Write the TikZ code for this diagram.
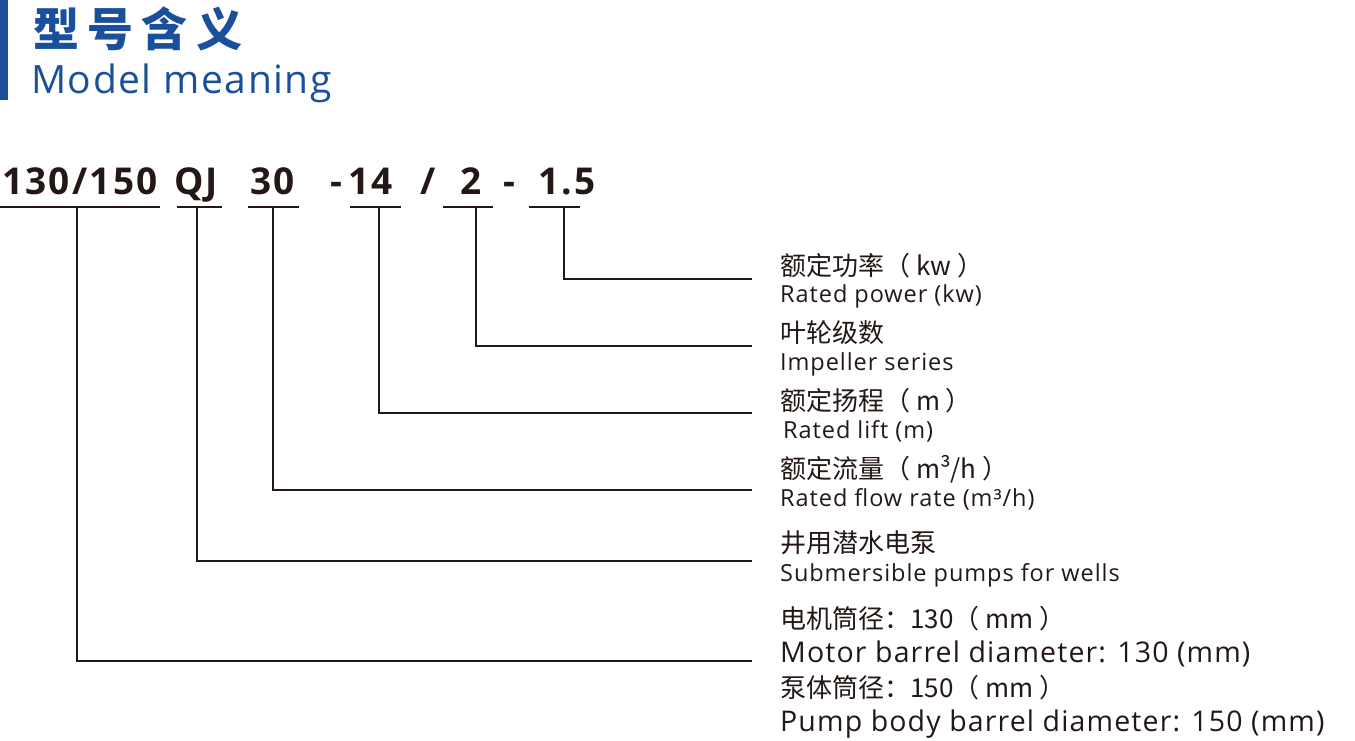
\documentclass[tikz,border=0pt]{standalone}
\usepackage{fontspec}
\usepackage{tikz}
\setmainfont{Open Sans}
\newfontfamily\cjk{Noto Sans CJK SC}
\newfontfamily\cjkwide[LetterSpace=18]{Noto Sans CJK SC}
\newfontfamily\codefont[LetterSpace=6]{Open Sans}
\newfontfamily\enwide[LetterSpace=4]{Open Sans}
\definecolor{titleblue}{HTML}{1A4F9C}
\definecolor{ink}{HTML}{231815}
\tikzset{
  codetxt/.style={anchor=base west, inner sep=0pt, text=ink, font=\codefont\fontsize{37}{37}\selectfont\bfseries},
  cnlbl/.style={anchor=base west, inner sep=0pt, text=ink, font=\cjk\fontsize{26}{26}\selectfont},
  enlbl/.style={anchor=base west, inner sep=0pt, text=ink, font=\enwide\fontsize{23.5}{23.5}\selectfont},
  enbig/.style={anchor=base west, inner sep=0pt, text=ink, font=\enwide\fontsize{28.5}{28.5}\selectfont},
  leader/.style={draw=ink, line width=1.8pt},
}
\begin{document}
\begin{tikzpicture}[x=1pt, y=-1pt]
\useasboundingbox (0,0) rectangle (1355,740);
% title
\fill[titleblue] (0,0) rectangle (8,100);
\node[anchor=base west, inner sep=0pt, text=titleblue, font=\cjkwide\fontsize{46}{46}\selectfont\bfseries] (title) at (33,46) {型号含义};
\node[anchor=base west, inner sep=0pt, text=titleblue, font=\enwide\fontsize{39}{39}\selectfont] (subtitle) at (31,93) {Model meaning};
% model code
\node[codetxt] (c1) at (2,194) {130/150};
\node[codetxt] (c2) at (174,194) {QJ};
\node[codetxt] (c3) at (250,194) {30};
\node[codetxt] (c4) at (330,194) {-\,14};
\node[codetxt] (c5) at (420,194) {/};
\node[codetxt] (c6) at (460,194) {2};
\node[codetxt] (c7) at (503,194) {-};
\node[codetxt] (c8) at (538,194) {1.5};
\foreach \a/\b in {0/160,177/222,248/299,350/401,443/493,529/580}
  \draw[leader] (\a,207) -- (\b,207);
% leaders
\foreach \name/\x/\y in {p/564/279, s/476/346, h/379/413, q/273/490, t/197/561, d/77/661} {
  \coordinate (\name-top) at (\x,207);
  \coordinate (\name-end) at (752,\y);
  \draw[leader] (\name-top) |- (\name-end);
}
% labels
\node[cnlbl] (lp) at (780,275) {额定功率（ kw ）};
\node[enlbl] (ep) at (780,302) {Rated power (kw)};
\node[cnlbl] (ls) at (780,342) {叶轮级数};
\node[enlbl] (es) at (780,370) {Impeller series};
\node[cnlbl] (lh) at (780,410) {额定扬程（ m ）};
\node[enlbl] (eh) at (783,438) {Rated lift (m)};
\node[cnlbl] (lq) at (780,478) {额定流量（ m³/h ）};
\node[enlbl] (eq) at (780,506) {Rated flow rate (m³/h)};
\node[cnlbl] (lt) at (780,552) {井用潜水电泵};
\node[enlbl] (et) at (780,581) {Submersible pumps for wells};
\node[cnlbl] (ld) at (780,628) {电机筒径：130（ mm ）};
\node[enbig] (ed) at (780,662) {Motor barrel diameter: 130 (mm)};
\node[cnlbl] (lb) at (780,697) {泵体筒径：150（ mm ）};
\node[enbig] (eb) at (780,731) {Pump body barrel diameter: 150 (mm)};
\end{tikzpicture}
\end{document}
